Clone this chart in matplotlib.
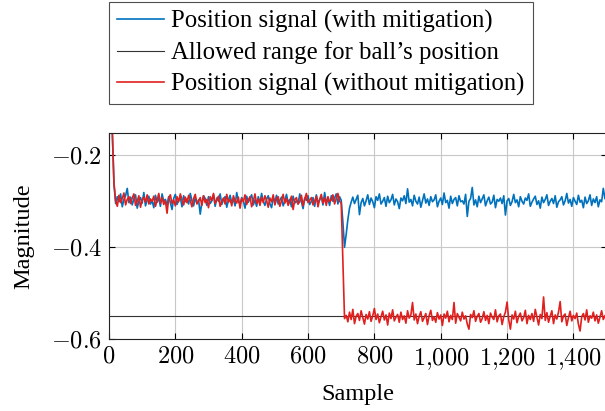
import numpy as np
import matplotlib
matplotlib.use("Agg")
import matplotlib.pyplot as plt
from matplotlib.ticker import FuncFormatter, MultipleLocator

plt.rcParams['font.family'] = ['Liberation Serif', 'DejaVu Serif']
plt.rcParams['mathtext.fontset'] = 'cm'

# one value every 5 samples, in thousandths of the magnitude
sample_step = 5

blue_mk = [
    0, -80, -150, -262,
    -305, -290, -301, -284, -312, -296, -288, -272, -303, -291,
    -308, -295, -286, -315, -300, -292, -304, -281, -310, -297,
    -289, -306, -299, -314, -287, -302, -293, -311, -284, -300,
    -296, -309, -290, -303, -318, -294, -285, -307, -298, -291,
    -312, -288, -301, -295, -306, -283, -299, -310, -292, -304,
    -297, -328, -302, -288, -294, -309, -290, -305, -299, -286,
    -311, -293, -300, -284, -307, -296, -290, -313, -298, -287,
    -303, -295, -310, -281, -300, -306, -292, -299, -315, -289,
    -302, -294, -286, -308, -297, -311, -290, -304, -283, -300,
    -309, -296, -288, -305, -314, -293, -301, -287, -306, -298,
    -291, -310, -300, -285, -303, -296, -312, -289, -304, -299,
    -306, -284, -301, -316, -293, -298, -288, -307, -300, -292,
    -311, -286, -303, -297, -290, -308, -281, -302, -295, -309,
    -288, -300, -293, -284, -306, -290, -298,
    -345, -400, -372, -340, -315, -302,
    -291, -305, -296, -287, -329, -303, -294, -310, -299, -286,
    -307, -293, -301, -314, -290, -298, -284, -306, -300, -292,
    -311, -289, -303, -297, -285, -308, -295, -301, -316, -293,
    -299, -288, -305, -273, -302, -296, -310, -287, -300, -306,
    -291, -313, -298, -284, -304, -295, -309, -290, -301, -297,
    -286, -312, -300, -293, -307, -282, -303, -298, -315, -289,
    -305, -296, -292, -310, -288, -301, -299, -306, -285, -333,
    -300, -294, -270, -308, -297, -312, -289, -303, -295, -286,
    -310, -299, -291, -306, -302, -287, -314, -296, -300, -293,
    -305, -288, -330, -299, -294, -309, -301, -285, -303, -297,
    -312, -290, -300, -306, -293, -298, -284, -311, -302, -295,
    -289, -307, -299, -315, -291, -303, -296, -286, -309, -300,
    -294, -305, -288, -313, -301, -297, -290, -308, -299, -283,
    -304, -296, -311, -292, -300, -307, -287, -302, -298, -314,
    -291, -305, -299, -286, -309, -295, -303, -290, -312, -297,
    -301, -272, -294,
]

red_mk = [
    0, -80, -150, -262,
    -298, -311, -287, -303, -294, -282, -308, -296, -290, -305,
    -293, -284, -309, -300, -288, -313, -297, -291, -302, -286,
    -306, -295, -300, -289, -311, -298, -283, -304, -292, -307,
    -299, -326, -293, -286, -305, -297, -310, -290, -301, -284,
    -296, -308, -291, -303, -287, -299, -312, -294, -285, -306,
    -300, -292, -309, -288, -303, -296, -314, -290, -298, -283,
    -305, -297, -289, -311, -300, -293, -306, -285, -302, -296,
    -310, -288, -299, -304, -291, -315, -294, -301, -286, -307,
    -297, -290, -312, -300, -284, -305, -295, -309, -291, -303,
    -288, -298, -313, -293, -301, -286, -308, -296, -290, -311,
    -299, -285, -304, -294, -309, -300, -289, -318, -297, -292,
    -306, -301, -287, -310, -295, -283, -303, -298, -292, -308,
    -300, -289, -312, -296, -285, -304, -293, -309, -290, -301,
    -297, -286, -306, -294, -283, -300, -304,
    -430, -555,
    -548, -562, -541, -557, -535, -566, -550, -544, -559, -538,
    -553, -567, -546, -556, -540, -561, -549, -533, -557, -545,
    -564, -551, -539, -558, -547, -569, -543, -555, -536, -560,
    -552, -546, -563, -541, -557, -549, -565, -538, -554, -547,
    -520, -558, -545, -566, -550, -540, -561, -553, -544, -568,
    -549, -537, -559, -551, -563, -542, -556, -547, -570, -545,
    -554, -539, -562, -548, -557, -520, -565, -544, -552, -560,
    -541, -556, -549, -567, -578, -546, -553, -538, -561, -550,
    -544, -563, -555, -540, -559, -548, -566, -543, -552, -557,
    -536, -562, -549, -545, -568, -551, -541, -519, -558, -578,
    -547, -556, -539, -564, -550, -543, -560, -553, -537, -566,
    -548, -557, -544, -561, -535, -552, -569, -546, -555, -508,
    -559, -542, -563, -550, -538, -566, -547, -556, -541, -518,
    -562, -549, -545, -570, -553, -539, -560, -548, -555, -543,
    -567, -582, -551, -544, -558, -536, -563, -549, -554, -541,
    -560, -547, -565, -552, -538, -557, -549,
]

limit_x = [0, 1500]
limit_y = [-0.55, -0.55]

labels = ["Position signal (with mitigation)",
          "Allowed range for ball\u2019s position",
          "Position signal (without mitigation)"]

samples = np.arange(len(blue_mk)) * sample_step
blue = np.array(blue_mk) / 1000.0
red = np.array(red_mk) / 1000.0

fig = plt.figure(figsize=(6.05, 4.11), dpi=100)
ax = fig.add_axes([109 / 605, 71.7 / 411, 497.6 / 605, 206.6 / 411])

ax.plot(samples, blue, color='#0072BD', lw=1.2, label=labels[0])
ax.plot(limit_x, limit_y, color='#333333', lw=0.8, label=labels[1])
ax.plot(samples, red, color='#E0201E', lw=1.2, label=labels[2])

ax.set_xlim(0, 1500)
ax.set_ylim(-0.6, -0.151)
ax.xaxis.set_major_locator(MultipleLocator(200))
ax.yaxis.set_major_locator(MultipleLocator(0.2))
ax.xaxis.set_major_formatter(FuncFormatter(lambda v, p: "$" + f"{v:,.0f}".replace(",", "{,}") + "$"))
ax.yaxis.set_major_formatter(FuncFormatter(lambda v, p: f"${v:.1f}$"))
ax.grid(True, color='#c8c8c8', lw=0.8)
ax.set_axisbelow(True)
ax.tick_params(direction='in', length=4, width=0.8, labelsize=17.5,
               top=True, right=True, pad=5)
for s in ax.spines.values():
    s.set_linewidth(0.8)
    s.set_color('#222222')

ax.set_xlabel("Sample", fontsize=17.5, labelpad=9)
ax.set_ylabel("Magnitude", fontsize=17.5, labelpad=12)

leg = fig.legend(loc='upper left', bbox_to_anchor=(109 / 605, 1 - 2 / 411),
                 fontsize=17.8, frameon=True, fancybox=False, handlelength=1.9,
                 handletextpad=0.28, borderpad=0.33, labelspacing=0.33,
                 borderaxespad=0)
leg.get_frame().set_edgecolor('#222222')
leg.get_frame().set_linewidth(0.8)

plt.savefig("out.png", dpi=100)
